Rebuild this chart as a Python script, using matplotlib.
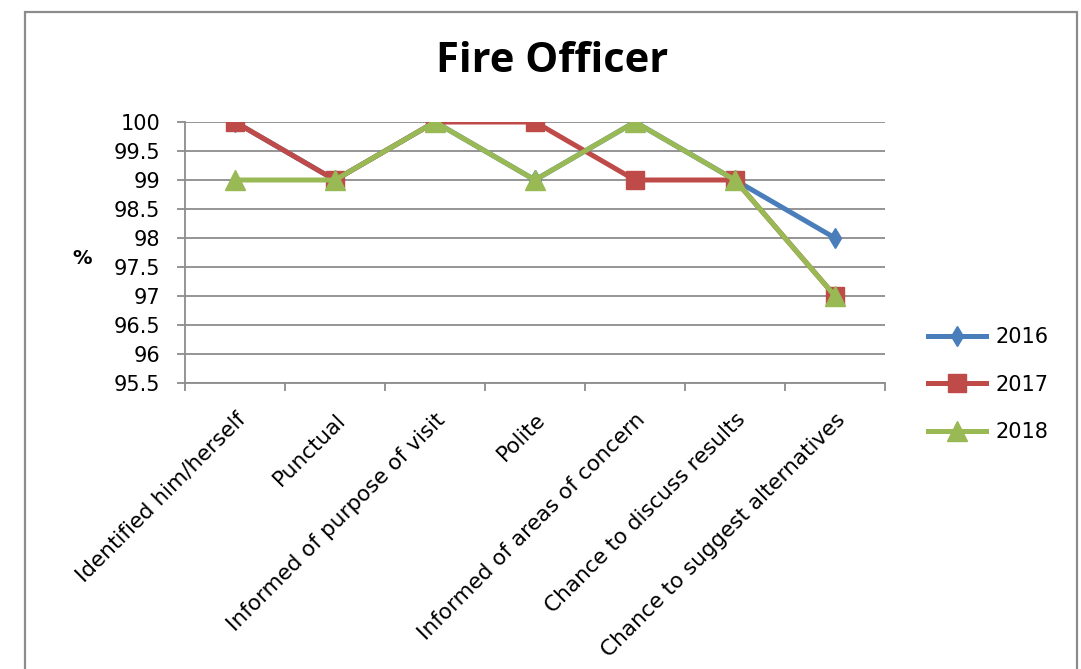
import matplotlib
matplotlib.use("Agg")
import matplotlib.pyplot as plt
from matplotlib.patches import Rectangle

categories = ["Identified him/herself", "Punctual", "Informed of purpose of visit",
              "Polite", "Informed of areas of concern", "Chance to discuss results",
              "Chance to suggest alternatives"]
v2016 = [100, 99, 100, 99, 100, 99, 98]
v2017 = [100, 99, 100, 100, 99, 99, 97]
v2018 = [99, 99, 100, 99, 100, 99, 97]
yticks = [95.5, 96, 96.5, 97, 97.5, 98, 98.5, 99, 99.5, 100]

plt.rcParams['font.family'] = ['DejaVu Sans']

fig = plt.figure(figsize=(10.81, 6.69), dpi=100)
fig.patches.append(Rectangle((25/1081, -0.1), (1077-25)/1081, 1.1 - 12/669,
                             transform=fig.transFigure, fill=False,
                             edgecolor='#8c8c8c', linewidth=1.6))
ax = fig.add_axes([185/1081, 1-383/669, 700/1081, 261/669])

x = list(range(len(categories)))
ax.plot(x, v2016, color='#4A7EBB', lw=3.6, marker='d', ms=10, label='2016', zorder=3)
ax.plot(x, v2017, color='#BE4B48', lw=3.6, marker='s', ms=13.5, label='2017', zorder=4)
ax.plot(x, v2018, color='#98B954', lw=3.6, marker='^', ms=14, label='2018', zorder=5)

ax.set_xlim(-0.5, len(categories) - 0.5)
ax.set_ylim(95.5, 100)
ax.set_yticks(yticks)
ax.set_yticklabels([f"{t:g}" for t in yticks], fontsize=15)
ax.yaxis.grid(True, color='#8c8c8c', lw=1.3)
ax.set_axisbelow(True)
ax.set_xticks([i - 0.5 for i in range(len(categories) + 1)], minor=False)
ax.set_xticklabels([])
ax.set_xticks(x, minor=True)
ax.set_xticklabels(categories, minor=True, rotation=45, ha='right', va='top',
                   rotation_mode='anchor', fontsize=15.5)
ax.tick_params(axis='x', which='minor', length=0, pad=19)
ax.tick_params(axis='x', which='major', length=6, color='#8c8c8c', width=1.3)
ax.tick_params(axis='y', length=6, color='#8c8c8c', width=1.3, pad=12)
for s in ['top', 'right']:
    ax.spines[s].set_visible(False)
for s in ['left', 'bottom']:
    ax.spines[s].set_color('#8c8c8c')
    ax.spines[s].set_linewidth(1.3)

fig.text(552/1081, 1-62/669, "Fire Officer", ha='center', va='center',
         fontsize=30, fontweight='bold', family=['Open Sans', 'DejaVu Sans'])
fig.text(82/1081, 1-258/669, "%", ha='center', va='center', fontsize=14, fontweight='bold')

ax.legend(loc='upper left', bbox_to_anchor=(928/1081, 1-327/669), bbox_transform=fig.transFigure,
          frameon=False, fontsize=15, handlelength=2.8, labelspacing=1.33, handletextpad=0.45,
          borderpad=0, borderaxespad=0)

fig.savefig("out.png", dpi=100)
